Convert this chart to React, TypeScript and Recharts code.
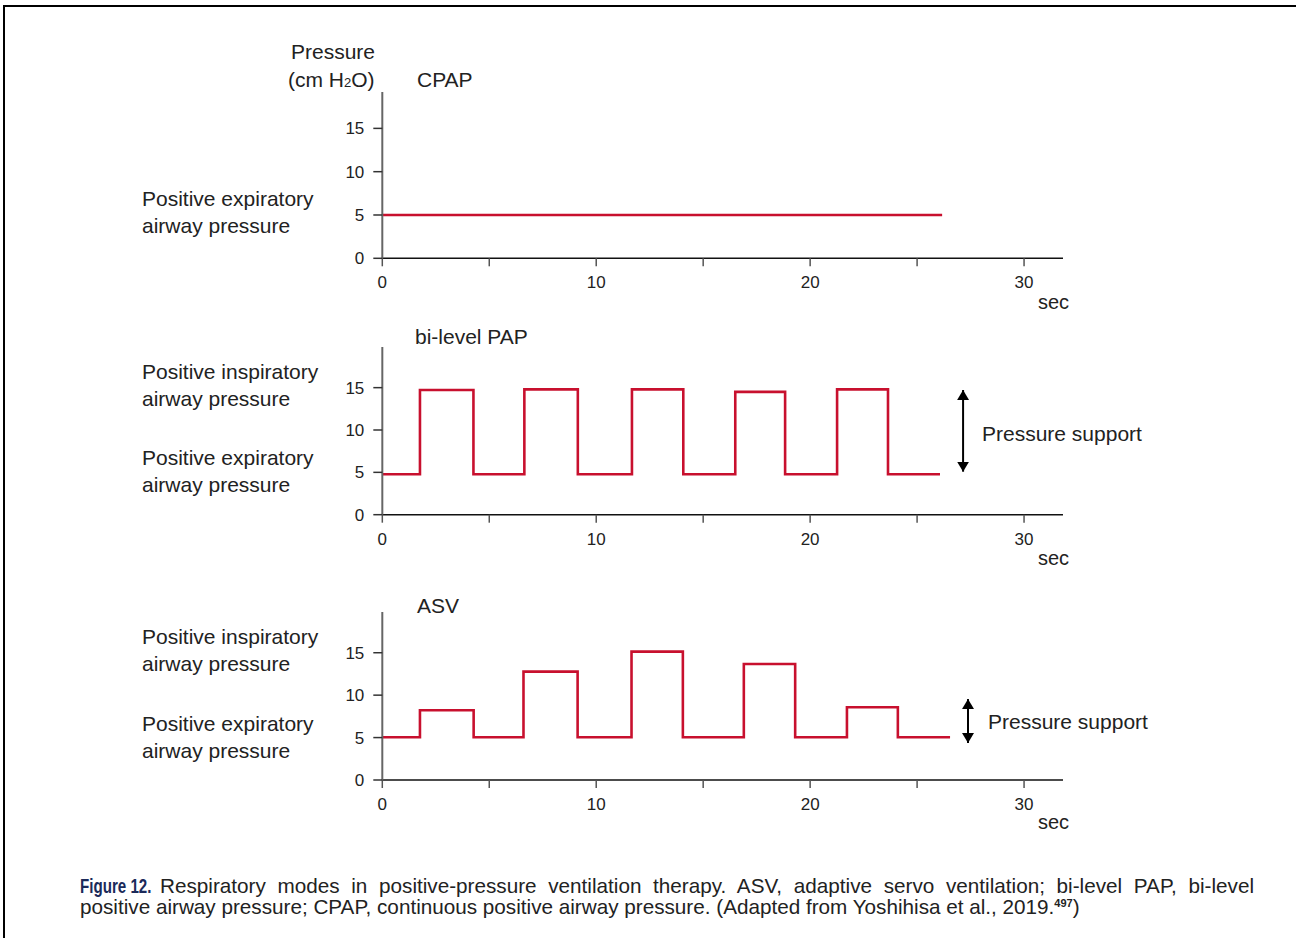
import React from "react";
import { Line, LineChart, ReferenceLine, XAxis, YAxis } from "recharts";

// time axis (sec) and pressure (cm H2O)
const X_TICKS = [0, 5, 10, 15, 20, 25, 30];
const X_LABELS: Record<number, string> = { 0: "0", 10: "10", 20: "20", 30: "30" };
const Y_TICKS = [0, 5, 10, 15];

const cpapTimes = [0, 26.17];
const cpapPressure = [5, 5];

const biTimes = [0, 1.76, 4.26, 6.64, 9.14, 11.67, 14.07, 16.5, 18.83, 21.26, 23.64, 26.07];
const biPressure = [4.78, 14.72, 4.78, 14.8, 4.78, 14.8, 4.78, 14.5, 4.78, 14.8, 4.78, 4.78];

const asvTimes = [0, 1.76, 4.27, 6.6, 9.13, 11.65, 14.05, 16.9, 19.3, 21.72, 24.1, 26.54];
const asvPressure = [5.03, 8.22, 5.03, 12.77, 5.03, 15.13, 5.03, 13.68, 5.03, 8.57, 5.03, 5.03];

// pressure support arrows: [time, low, high]
const biArrow = [27.15, 5.08, 14.72];
const asvArrow = [27.38, 4.36, 9.54];

const RED = "#c8102e";
const FONT = "'Liberation Sans', Arial, Helvetica, sans-serif";
const TEXT = "#222";
const LABEL = 21;

const toRows = (t: number[], p: number[]) => t.map((x, i) => ({ t: x, p: p[i] }));

const PLOT_LEFT = 382.3;
const PLOT_RIGHT = 1063;
const X_MAX = 31.82;
const Y_AXIS_W = 40;

type PanelProps = {
  id: string;
  plotTop: number;
  plotBottom: number;
  yMax: number;
  times: number[];
  values: number[];
  arrow?: number[];
};

function Panel({ id, plotTop, plotBottom, yMax, times, values, arrow }: PanelProps) {
  const chartTop = plotTop - 10;
  const xAxisH = 40;
  const height = plotBottom - chartTop + xAxisH + 4;
  const data = toRows(times, values);
  return (
    <div style={{ position: "absolute", left: 0, top: chartTop }}>
      <LineChart
        width={1296}
        height={height}
        data={data}
        margin={{ top: 10, left: PLOT_LEFT - Y_AXIS_W, right: 1296 - PLOT_RIGHT, bottom: 4 }}
      >
        <defs>
          <marker
            id={`arr-${id}`}
            viewBox="0 0 10 12"
            refX={10}
            refY={6}
            markerWidth={10}
            markerHeight={12}
            markerUnits="userSpaceOnUse"
            orient="auto-start-reverse"
          >
            <path d="M0,0 L10,6 L0,12 z" fill="#000" />
          </marker>
        </defs>
        <XAxis
          dataKey="t"
          type="number"
          domain={[0, X_MAX]}
          ticks={X_TICKS}
          tickFormatter={(v: number) => X_LABELS[v] ?? ""}
          interval={0}
          height={xAxisH}
          tickSize={8}
          tickMargin={10}
          axisLine={{ stroke: "#111", strokeWidth: 1.5 }}
          tickLine={{ stroke: "#555", strokeWidth: 1.5 }}
          tick={{ fontSize: 17, fill: TEXT, fontFamily: FONT }}
          allowDataOverflow
        />
        <YAxis
          type="number"
          domain={[0, yMax]}
          ticks={Y_TICKS}
          interval={0}
          width={Y_AXIS_W}
          tickSize={9}
          tickMargin={9}
          axisLine={{ stroke: "#666", strokeWidth: 2 }}
          tickLine={{ stroke: "#333", strokeWidth: 1.5 }}
          tick={{ fontSize: 17, fill: TEXT, fontFamily: FONT }}
          allowDataOverflow
        />
        <Line
          dataKey="p"
          type="stepAfter"
          stroke={RED}
          strokeWidth={2.6}
          dot={false}
          activeDot={false}
          isAnimationActive={false}
        />
        {arrow && (
          <ReferenceLine
            segment={[
              { x: arrow[0], y: arrow[1] },
              { x: arrow[0], y: arrow[2] },
            ]}
            stroke="#000"
            strokeWidth={2}
            markerStart={`url(#arr-${id})`}
            markerEnd={`url(#arr-${id})`}
          />
        )}
      </LineChart>
    </div>
  );
}

function Txt({ x, y, size = LABEL, children, style }: { x: number; y: number; size?: number; children: React.ReactNode; style?: React.CSSProperties }) {
  return (
    <div
      style={{
        position: "absolute",
        left: x,
        top: y,
        transform: "translateY(-50%)",
        fontSize: size,
        lineHeight: 1.2,
        whiteSpace: "nowrap",
        color: TEXT,
        fontFamily: FONT,
        ...style,
      }}
    >
      {children}
    </div>
  );
}

export default function App() {
  return (
    <div
      style={{
        position: "absolute",
        left: 0,
        top: 0,
        width: 1296,
        height: 938,
        overflow: "hidden",
        background: "#fff",
        fontFamily: FONT,
      }}
    >
      <div
        style={{
          position: "absolute",
          left: 3,
          top: 5,
          width: 1400,
          height: 1000,
          borderTop: "2px solid #000",
          borderLeft: "2px solid #000",
        }}
      />

      <Txt x={291} y={52}>Pressure</Txt>
      <Txt x={288} y={80}>
        (cm H<span style={{ fontSize: 13 }}>2</span>O)
      </Txt>

      <Txt x={417} y={80}>CPAP</Txt>
      <Txt x={142} y={199}>Positive expiratory</Txt>
      <Txt x={142} y={226}>airway pressure</Txt>
      <Txt x={1038} y={302} size={20}>sec</Txt>

      <Txt x={415} y={337}>bi-level PAP</Txt>
      <Txt x={142} y={372}>Positive inspiratory</Txt>
      <Txt x={142} y={399}>airway pressure</Txt>
      <Txt x={142} y={458}>Positive expiratory</Txt>
      <Txt x={142} y={485}>airway pressure</Txt>
      <Txt x={982} y={434}>Pressure support</Txt>
      <Txt x={1038} y={558} size={20}>sec</Txt>

      <Txt x={417} y={606}>ASV</Txt>
      <Txt x={142} y={637}>Positive inspiratory</Txt>
      <Txt x={142} y={664}>airway pressure</Txt>
      <Txt x={142} y={724}>Positive expiratory</Txt>
      <Txt x={142} y={751}>airway pressure</Txt>
      <Txt x={988} y={722}>Pressure support</Txt>
      <Txt x={1038} y={822} size={20}>sec</Txt>

      <Panel id="cpap" plotTop={92} plotBottom={258.3} yMax={19.2} times={cpapTimes} values={cpapPressure} />
      <Panel id="bi" plotTop={347} plotBottom={514.7} yMax={19.8} times={biTimes} values={biPressure} arrow={biArrow} />
      <Panel id="asv" plotTop={612} plotBottom={780} yMax={19.8} times={asvTimes} values={asvPressure} arrow={asvArrow} />

      <div
        style={{
          position: "absolute",
          left: 80,
          top: 875,
          width: 1174,
          fontSize: 20.7,
          lineHeight: "21px",
          color: TEXT,
          fontFamily: FONT,
        }}
      >
        <div style={{ whiteSpace: "nowrap" }}>
          <span
            style={{
              display: "inline-block",
              width: 70,
              marginRight: 10,
              verticalAlign: "bottom",
            }}
          >
            <span
              style={{
                display: "inline-block",
                fontSize: 21,
                fontWeight: 700,
                color: "#1b2a5a",
                transform: "scaleX(0.72)",
                transformOrigin: "left center",
              }}
            >
              Figure 12.
            </span>
          </span>
          <span
            style={{
              display: "inline-block",
              width: 1094,
              textAlign: "justify",
              textAlignLast: "justify",
              whiteSpace: "nowrap",
              verticalAlign: "bottom",
            }}
          >
            Respiratory modes in positive-pressure ventilation therapy. ASV, adaptive servo ventilation; bi-level PAP, bi-level
          </span>
        </div>
        <div style={{ whiteSpace: "nowrap" }}>
          positive airway pressure; CPAP, continuous positive airway pressure. (Adapted from Yoshihisa et al., 2019.
          <span style={{ fontSize: 11, fontWeight: 700, position: "relative", top: -7 }}>497</span>)
        </div>
      </div>
    </div>
  );
}
